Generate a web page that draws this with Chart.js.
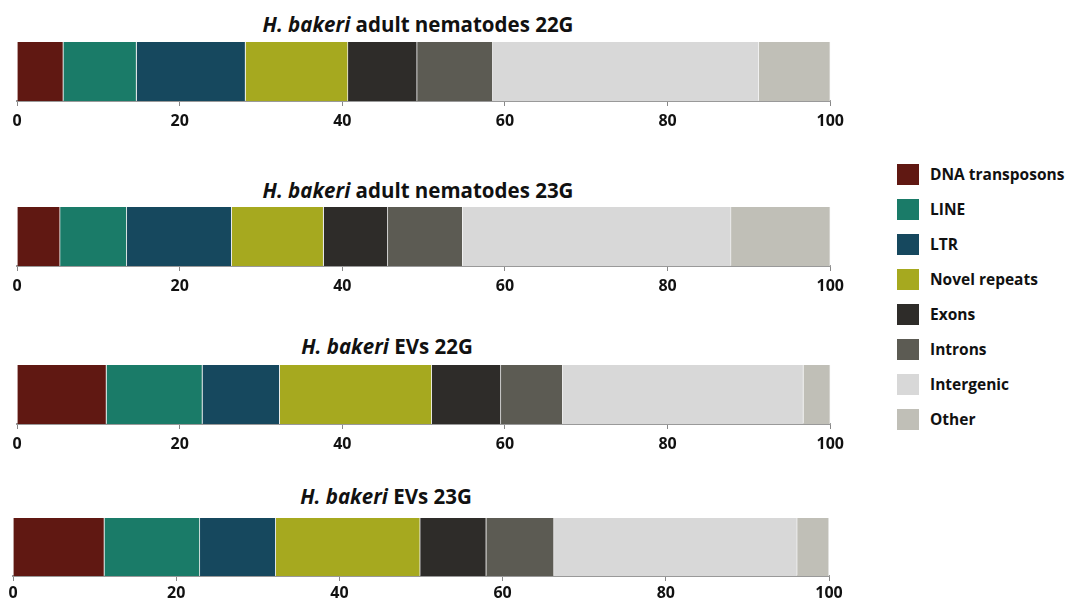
<!DOCTYPE html>
<html>
<head>
<meta charset="utf-8">
<script src="https://cdn.jsdelivr.net/npm/chart.js@4.4.1/dist/chart.umd.min.js"></script>
<style>
    body { margin: 0; background: #fff; font-family: "Open Sans", "Noto Sans", sans-serif; }
    #page { position: relative; width: 1070px; height: 599px; overflow: hidden; }
    .panel { position: absolute; width: 850px; }
    .title { position: absolute; transform: translateX(-50%); white-space: nowrap;
             font-size: 20.5px; font-weight: bold; line-height: 24px; color: #111; }
    .title i { font-style: italic; }
    #legend { position: absolute; left: 897px; top: 164px; margin: 0; padding: 0; list-style: none; }
    #legend li { height: 35px; display: flex; align-items: flex-start; font-size: 15.5px; font-weight: bold; color: #111; }
    #legend .sw { width: 22px; height: 21px; margin-right: 11px; }
    #legend span.txt { line-height: 21px; }
</style>
</head>
<body>
<div id="page">
    <ul id="legend"></ul>
</div>
<script>
// repeat categories, one stacked segment each
const categories = ['DNA transposons', 'LINE', 'LTR', 'Novel repeats', 'Exons', 'Introns', 'Intergenic', 'Other'];
const colors = ['#601812', '#1a7b68', '#16485e', '#a6a91f', '#2e2c29', '#5c5b53', '#d8d8d8', '#c0bfb7'];

// percentage of reads per category
const adult22G = [5.7, 9.0, 13.4, 12.6, 8.5, 9.3, 32.7, 8.8];
const adult23G = [5.3, 8.2, 12.9, 11.3, 7.9, 9.2, 33.0, 12.2];
const evs22G = [11.0, 11.8, 9.5, 18.7, 8.5, 7.6, 29.6, 3.3];
const evs23G = [11.2, 11.7, 9.3, 17.7, 8.1, 8.3, 29.8, 3.9];

const species = 'H. bakeri';
const titles = ['adult nematodes 22G', 'adult nematodes 23G', 'EVs 22G', 'EVs 23G'];
const xTicks = [0, 20, 40, 60, 80, 100];

const samples = [adult22G, adult23G, evs22G, evs23G];

// where each panel sits on the page
const panels = [
    { top: 30, barH: 59, padLeft: 17, padRight: 18, tickPad: 6, titleX: 418, titleY: 12 },
    { top: 195, barH: 59, padLeft: 17, padRight: 18, tickPad: 6, titleX: 418, titleY: 178 },
    { top: 353, barH: 59, padLeft: 17, padRight: 18, tickPad: 6, titleX: 387, titleY: 334 },
    { top: 506, barH: 58, padLeft: 13, padRight: 21, tickPad: 3, titleX: 386, titleY: 484 }
];

const page = document.getElementById('page');

samples.forEach(function(values, i) {
    const p = panels[i];

    const title = document.createElement('div');
    title.className = 'title';
    title.style.left = p.titleX + 'px';
    title.style.top = p.titleY + 'px';
    title.innerHTML = '<i>' + species + '</i> ' + titles[i];
    page.appendChild(title);

    const box = document.createElement('div');
    box.className = 'panel';
    box.style.top = p.top + 'px';
    box.style.left = '0px';
    box.style.height = (12 + p.barH + 34) + 'px';
    const canvas = document.createElement('canvas');
    box.appendChild(canvas);
    page.appendChild(box);

    new Chart(canvas, {
        type: 'bar',
        data: {
            labels: [titles[i]],
            datasets: categories.map(function(cat, k) {
                return {
                    label: cat,
                    data: [values[k]],
                    backgroundColor: colors[k],
                    borderColor: 'rgba(240, 240, 240, 0.9)',
                    borderWidth: { top: 0, bottom: 0, left: 0, right: 1 },
                    borderSkipped: false,
                    barPercentage: 1,
                    categoryPercentage: 1
                };
            })
        },
        options: {
            indexAxis: 'y',
            responsive: true,
            maintainAspectRatio: false,
            animation: false,
            layout: {
                padding: { top: 12, bottom: 0, left: p.padLeft, right: p.padRight }
            },
            plugins: {
                legend: { display: false },
                tooltip: { enabled: false }
            },
            scales: {
                x: {
                    stacked: true,
                    min: 0,
                    max: 100,
                    afterBuildTicks: function(scale) {
                        scale.ticks = xTicks.map(function(v) { return { value: v }; });
                    },
                    afterFit: function(scale) {
                        scale.height = 34;
                    },
                    grid: {
                        drawOnChartArea: false,
                        drawTicks: true,
                        tickLength: 5,
                        color: '#888'
                    },
                    border: { display: true, color: '#999', width: 2 },
                    ticks: {
                        padding: p.tickPad,
                        color: '#111',
                        font: { family: 'Open Sans', size: 16, weight: 'bold' }
                    }
                },
                y: {
                    stacked: true,
                    display: false
                }
            }
        }
    });
});

// legend on the right
const legend = document.getElementById('legend');
categories.forEach(function(cat, k) {
    const li = document.createElement('li');
    li.innerHTML = '<div class="sw" style="background:' + colors[k] + '"></div><span class="txt">' + cat + '</span>';
    legend.appendChild(li);
});
</script>
</body>
</html>
